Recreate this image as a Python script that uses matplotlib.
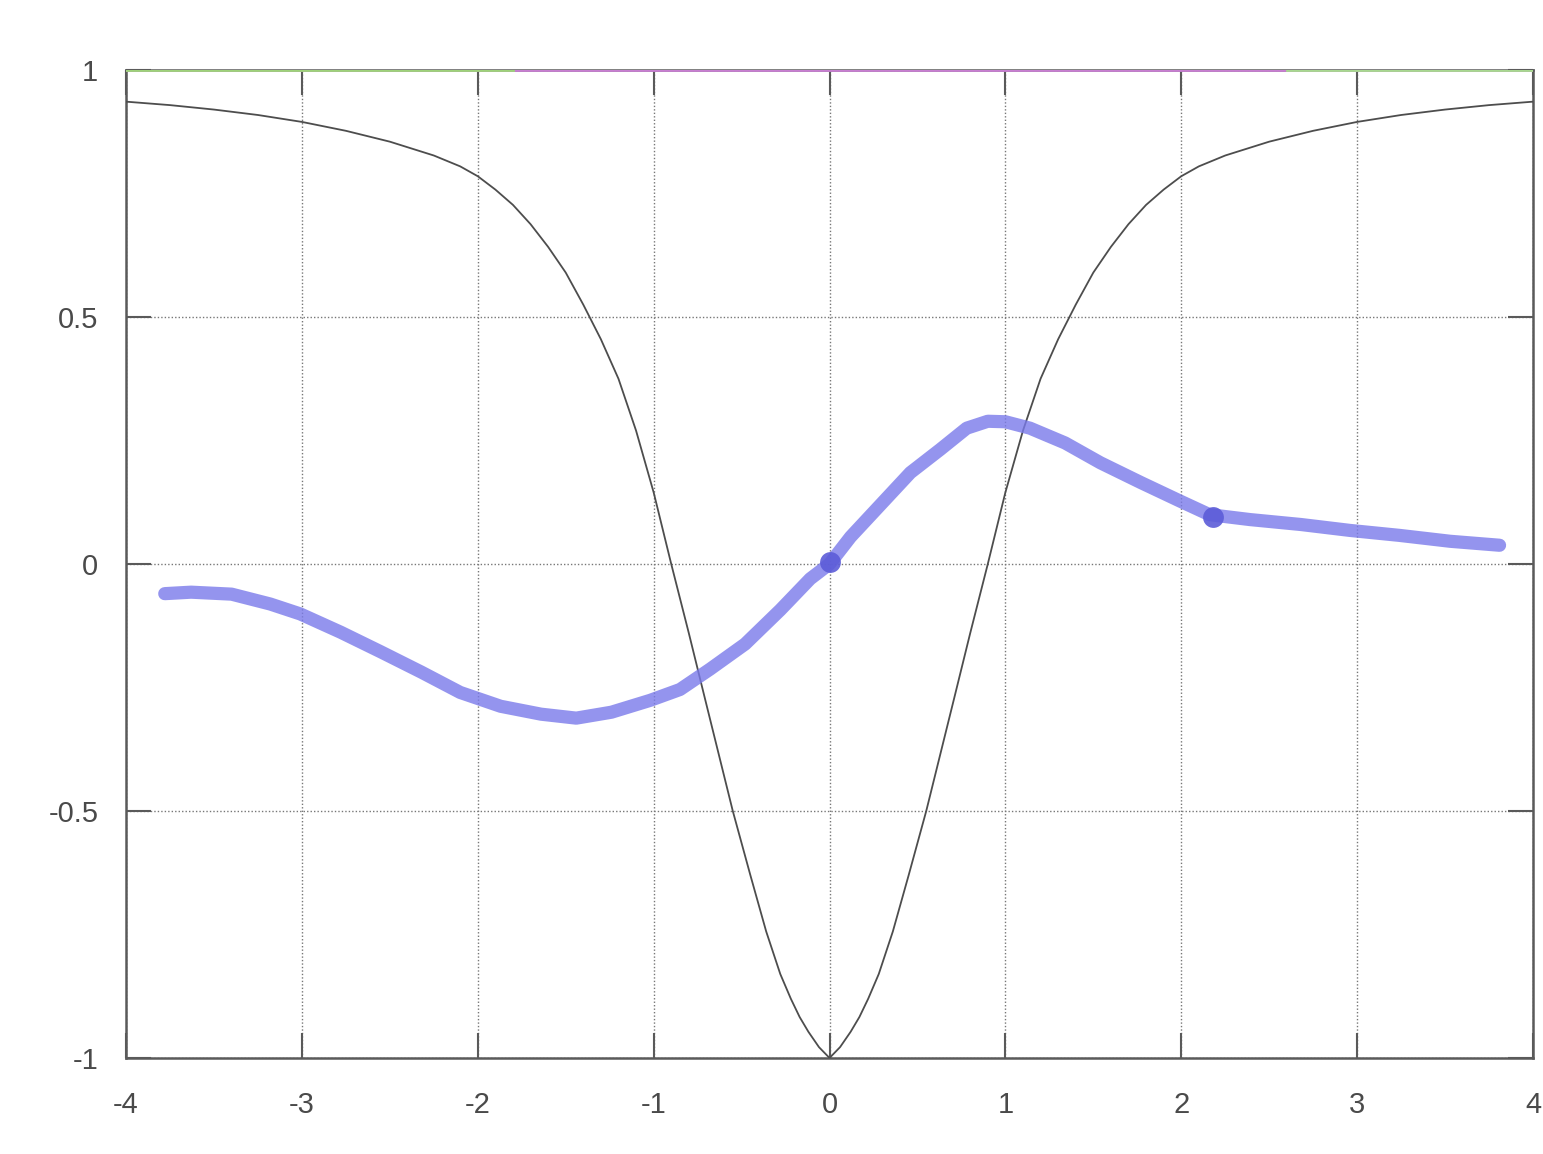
import numpy as np
import matplotlib.pyplot as plt

# black curve (symmetric about x=0)
black_x_pos = [0.0, 0.06, 0.12, 0.17, 0.22, 0.28, 0.36, 0.45, 0.55, 0.63,
               0.71, 0.8, 0.9, 1.0, 1.1, 1.2, 1.3, 1.4, 1.5, 1.6, 1.7,
               1.8, 1.9, 2.0, 2.1, 2.25, 2.5, 2.75, 3.0, 3.25, 3.5, 3.75,
               4.0]
black_y_pos = [-1.0, -0.978, -0.947, -0.917, -0.88, -0.83, -0.744, -0.63,
               -0.5, -0.385, -0.27, -0.14, 0.0, 0.145, 0.27, 0.375, 0.455,
               0.525, 0.59, 0.642, 0.688, 0.727, 0.758, 0.785, 0.805,
               0.827, 0.855, 0.877, 0.895, 0.909, 0.92, 0.929, 0.936]

# hand-drawn blue curve
blue_x = [-3.78, -3.63, -3.40, -3.18, -3.01, -2.78, -2.55, -2.32, -2.10,
          -1.87, -1.64, -1.44, -1.24, -1.02, -0.85, -0.68, -0.48, -0.28,
          -0.11, 0.0, 0.12, 0.29, 0.46, 0.63, 0.78, 0.9, 1.0, 1.14, 1.34,
          1.54, 1.77, 1.99, 2.16, 2.39, 2.68, 2.96, 3.24, 3.53, 3.81]
blue_y = [-0.06, -0.057, -0.061, -0.081, -0.101, -0.138, -0.178, -0.219,
          -0.26, -0.288, -0.304, -0.312, -0.30, -0.276, -0.254, -0.213,
          -0.162, -0.093, -0.03, 0.0, 0.055, 0.12, 0.185, 0.232, 0.275,
          0.289, 0.288, 0.275, 0.245, 0.205, 0.165, 0.128, 0.10, 0.09,
          0.08, 0.068, 0.058, 0.046, 0.038]

# marks on the blue curve
dot_x = [0.0, 2.18]
dot_y = [0.005, 0.095]

# constant line along the top
top_x = [-4, 4]
top_y = [1, 1]

xticks = [-4, -3, -2, -1, 0, 1, 2, 3, 4]
yticks = [-1, -0.5, 0, 0.5, 1]
ytick_labels = ['-1', '-0.5', '0', '0.5', '1']

black_x = np.concatenate([-np.array(black_x_pos[::-1]), black_x_pos[1:]])
black_y = np.concatenate([black_y_pos[::-1], black_y_pos[1:]])

plt.rcParams['font.family'] = ['Liberation Sans', 'DejaVu Sans']
plt.rcParams['axes.unicode_minus'] = False

fig = plt.figure(figsize=(15.43, 11.54), dpi=100)
ax = fig.add_axes([0.0817, 0.0832, 0.9118, 0.8561])

ax.set_xlim(-4, 4)
ax.set_ylim(-1, 1)

# grid
ax.grid(True, color='#777777', linestyle=(0, (1, 1.5)), linewidth=1.0)
ax.set_axisbelow(True)

ax.plot(top_x, top_y, color='#c77fd0', lw=2.0, zorder=3)
ax.plot([-4, -1.8], [1, 1], color='#9ed27a', lw=2.0, zorder=3)
ax.plot([2.6, 4], [1, 1], color='#a8d890', lw=2.0, zorder=3)

ax.plot(black_x, black_y, color='#4d4d4d', lw=1.3, zorder=4)

ax.plot(blue_x, blue_y, color='#7a7aea', lw=9.5, alpha=0.8,
        solid_capstyle='round', solid_joinstyle='round', zorder=5)
ax.plot(dot_x, dot_y, 'o', color='#5c5cd8', ms=15, alpha=0.9,
        markeredgewidth=0, zorder=6)

ax.set_xticks(xticks)
ax.set_yticks(yticks)
ax.set_yticklabels(ytick_labels)

for sp in ax.spines.values():
    sp.set_color('#5a5a5a')
    sp.set_linewidth(1.8)

ax.tick_params(axis='both', direction='in', length=18, width=1.5,
               color='#5a5a5a', labelsize=21, labelcolor='#4a4a4a',
               top=True, right=True)
ax.tick_params(axis='y', pad=20)
ax.tick_params(axis='x', pad=24)

plt.savefig('out.png', dpi=100)
